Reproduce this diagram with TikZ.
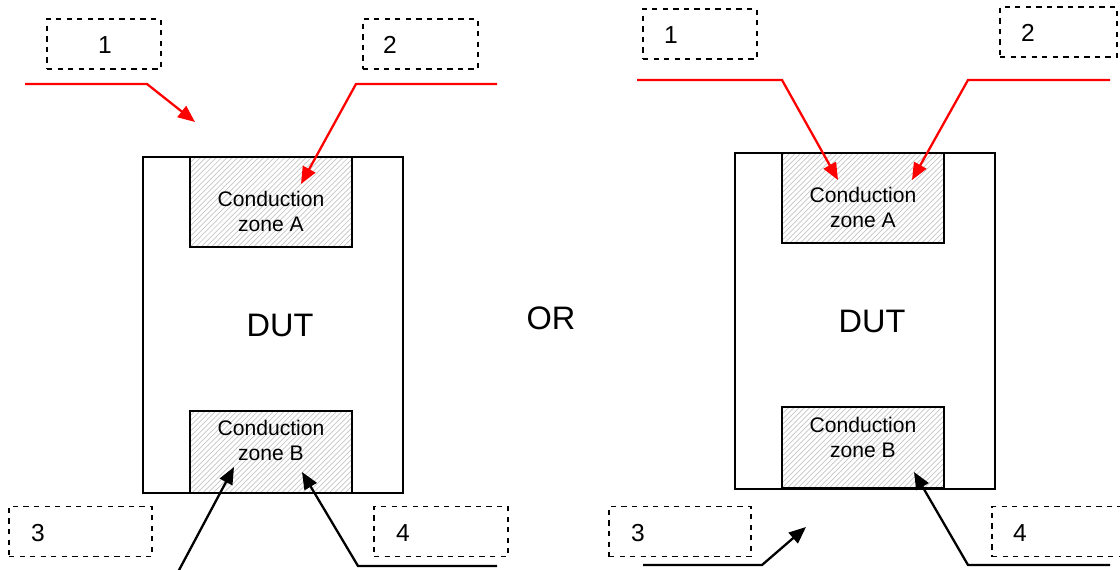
\documentclass[tikz,border=0pt]{standalone}
\usepackage{fontspec}
\setmainfont{Liberation Sans}
\usetikzlibrary{arrows.meta,positioning,patterns}
\definecolor{leadred}{RGB}{255,0,0}
\tikzset{
  dut/.style={draw, line width=1.2pt, minimum width=5.2cm, minimum height=6.72cm, inner sep=0pt},
  zone/.style={draw, line width=1.2pt, pattern=north east lines, pattern color=gray!45, minimum width=3.24cm, inner sep=0pt},
  ztxt/.style={align=center, font=\fontsize{12}{14.2}\selectfont},
  big/.style={font=\fontsize{18.5}{20}\selectfont},
  tag/.style={draw, dashed, line width=0.9pt, minimum height=1cm, inner sep=0pt},
  num/.style={font=\fontsize{14}{16}\selectfont},
  rlead/.style={leadred, line width=1.3pt, -{Triangle[length=3.4mm,width=2.8mm]}},
  blead/.style={black, line width=1.3pt, -{Triangle[length=3.4mm,width=2.8mm]}},
}
\begin{document}
\begin{tikzpicture}[x=0.02cm, y=-0.02cm]
\useasboundingbox (0,0) rectangle (1120,569);
% left
\node[dut] (dL) at (273,325) {};
\node[big] (dLt) at (280,325) {DUT};
\node[zone, minimum height=1.8cm] (zaL) at (271,202) {};
\node[ztxt] (zaLt) at (271,211) {Conduction\\zone A};
\node[zone, minimum height=1.64cm] (zbL) at (271,452) {};
\node[ztxt] (zbLt) at (271,440) {Conduction\\zone B};
\node[tag, minimum width=2.28cm] (t1L) at (104,44) {};
\node[num] (n1L) at (105,45) {1};
\node[tag, minimum width=2.3cm] (t2L) at (420.5,44) {};
\node[num] (n2L) at (390,45) {2};
\node[tag, minimum width=2.86cm] (t3L) at (80.5,531.5) {};
\node[num] (n3L) at (38,533) {3};
\node[tag, minimum width=2.68cm] (t4L) at (441,531.5) {};
\node[num] (n4L) at (403,533) {4};
\coordinate (r1L) at (25,84);
\coordinate (e1L) at (195,122);
\draw[rlead] (r1L) -- (147,84) -- (e1L);
\coordinate (r2L) at (497,84);
\draw[rlead] (r2L) -- (356,84) -- (301,184);
\coordinate (b3L) at (178,572);
\draw[blead] (b3L) -- (234,467);
\coordinate (b4L) at (497,566);
\draw[blead] (b4L) -- (358,566) -- (302,472);
\node[big] (or) at (551,318) {OR};
% right
\node[dut] (dR) at (865,321) {};
\node[big] (dRt) at (872,321) {DUT};
\node[zone, minimum height=1.8cm] (zaR) at (863,198) {};
\node[ztxt] (zaRt) at (863,207) {Conduction\\zone A};
\node[zone, minimum height=1.62cm] (zbR) at (863,447.5) {};
\node[ztxt] (zbRt) at (863,437) {Conduction\\zone B};
\node[tag, minimum width=2.28cm] (t1R) at (700,34) {};
\node[num] (n1R) at (671,35) {1};
\node[tag, minimum width=2.34cm] (t2R) at (1058.5,32) {};
\node[num] (n2R) at (1028,33) {2};
\node[tag, minimum width=2.84cm] (t3R) at (680,531.5) {};
\node[num] (n3R) at (638,533) {3};
\node[tag, minimum width=2.6cm] (t4R) at (1057,531.5) {};
\node[num] (n4R) at (1020,533) {4};
\coordinate (r1R) at (637,80);
\draw[rlead] (r1R) -- (782,80) -- (838,180);
\coordinate (r2R) at (1110,80);
\draw[rlead] (r2R) -- (968,80) -- (912,180);
\coordinate (b3R) at (643,565);
\coordinate (e3R) at (806,527);
\draw[blead] (b3R) -- (762,565) -- (e3R);
\coordinate (b4R) at (1110,565);
\draw[blead] (b4R) -- (968,565) -- (914,472);
\end{tikzpicture}
\end{document}
